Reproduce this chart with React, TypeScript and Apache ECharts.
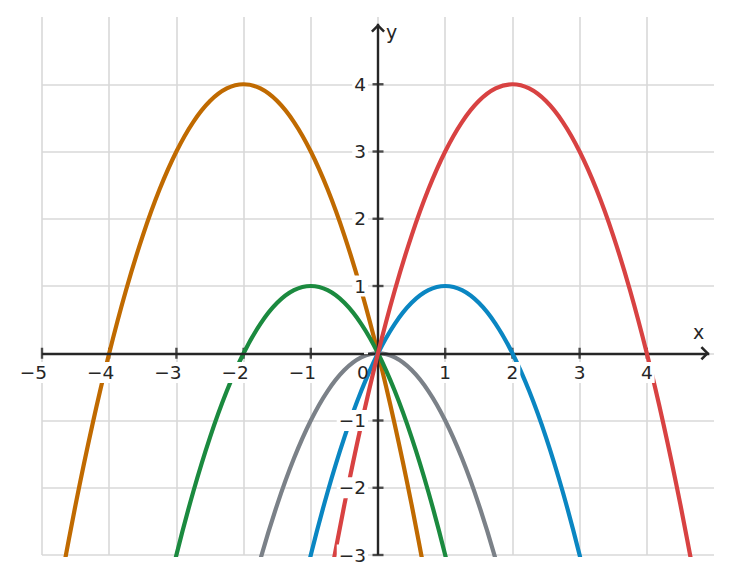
import React, { useEffect, useRef } from "react";
import * as echarts from "echarts";

// Tick positions
const X_TICKS = [-5, -4, -3, -2, -1, 0, 1, 2, 3, 4];
const Y_TICKS = [-3, -2, -1, 1, 2, 3, 4];

// Curves: [x, y]
const GRAY = [
  [-2, -4], [-1.75, -3.0625], [-1.5, -2.25], [-1.25, -1.5625], [-1, -1], [-0.75, -0.5625],
  [-0.5, -0.25], [-0.25, -0.0625], [0, 0], [0.25, -0.0625], [0.5, -0.25], [0.75, -0.5625],
  [1, -1], [1.25, -1.5625], [1.5, -2.25], [1.75, -3.0625], [2, -4],
];
const BLUE = [
  [-1.25, -4.0625], [-1, -3], [-0.75, -2.0625], [-0.5, -1.25], [-0.25, -0.5625], [0, 0],
  [0.25, 0.4375], [0.5, 0.75], [0.75, 0.9375], [1, 1], [1.25, 0.9375], [1.5, 0.75],
  [1.75, 0.4375], [2, 0], [2.25, -0.5625], [2.5, -1.25], [2.75, -2.0625], [3, -3], [3.25, -4.0625],
];
const GREEN = [
  [-3.25, -4.0625], [-3, -3], [-2.75, -2.0625], [-2.5, -1.25], [-2.25, -0.5625], [-2, 0],
  [-1.75, 0.4375], [-1.5, 0.75], [-1.25, 0.9375], [-1, 1], [-0.75, 0.9375], [-0.5, 0.75],
  [-0.25, 0.4375], [0, 0], [0.25, -0.5625], [0.5, -1.25], [0.75, -2.0625], [1, -3], [1.25, -4.0625],
];
const RED = [
  [-0.75, -3.5625], [-0.5, -2.25], [-0.25, -1.0625], [0, 0], [0.25, 0.9375], [0.5, 1.75],
  [0.75, 2.4375], [1, 3], [1.25, 3.4375], [1.5, 3.75], [1.75, 3.9375], [2, 4], [2.25, 3.9375],
  [2.5, 3.75], [2.75, 3.4375], [3, 3], [3.25, 2.4375], [3.5, 1.75], [3.75, 0.9375], [4, 0],
  [4.25, -1.0625], [4.5, -2.25], [4.75, -3.5625],
];
const ORANGE = [
  [-4.75, -3.5625], [-4.5, -2.25], [-4.25, -1.0625], [-4, 0], [-3.75, 0.9375], [-3.5, 1.75],
  [-3.25, 2.4375], [-3, 3], [-2.75, 3.4375], [-2.5, 3.75], [-2.25, 3.9375], [-2, 4], [-1.75, 3.9375],
  [-1.5, 3.75], [-1.25, 3.4375], [-1, 3], [-0.75, 2.4375], [-0.5, 1.75], [-0.25, 0.9375], [0, 0],
  [0.25, -1.0625], [0.5, -2.25], [0.75, -3.5625],
];

const FONT = "DejaVu Sans";
const INK = "#262626";
const GRID = "#d9d9d9";
const FS = 18.5;

// Open chevron pointing up, tip at the centre of its box
const CHEVRON =
  "path://M7,-1.8 L7.01,-1.8 L7,-1.79 Z M7,7 L14,14 L12.2,15.8 L7,10.6 L1.8,15.8 L0,14 Z";

const minus = (v: number) => (v < 0 ? "\u2212" + Math.abs(v) : String(v));

export default function App() {
  const ref = useRef<HTMLDivElement>(null);
  useEffect(() => {
    if (!ref.current) return;
    const chart = echarts.init(ref.current, null, { renderer: "svg" });
    const curve = (name: string, data: number[][], color: string, z: number) => ({
      name,
      type: "line",
      data,
      smooth: 0.333,
      showSymbol: false,
      symbol: "none",
      clip: true,
      z,
      lineStyle: { color, width: 4.2 },
      silent: true,
    });
    const tok = { fontFamily: FONT, fontSize: FS, color: INK, backgroundColor: "#fff", padding: [1, 2] };
    chart.setOption({
      animation: false,
      grid: { left: 42, right: 18, top: 17, bottom: 29 },
      xAxis: [
        {
          type: "value",
          min: -5,
          max: 5,
          interval: 1,
          position: "top",
          axisLine: { show: false, onZero: false },
          axisTick: { show: false },
          axisLabel: { show: false },
          splitLine: { show: true, showMaxLine: false, lineStyle: { color: GRID, width: 1.6 } },
        },
        {
          type: "value",
          min: -5,
          max: 5,
          interval: 1,
          position: "bottom",
          offset: -202,
          z: 10,
          axisLine: { show: false, onZero: false },
          axisTick: { show: false },
          splitLine: { show: false },
          axisLabel: {
            show: true,
            margin: 9,
            fontFamily: FONT,
            fontSize: FS,
            color: INK,
            formatter: (v: number) =>
              v === 5 ? "" : v === 0 ? "{o|0}{w| }" : v < 0 ? "{t|" + minus(v) + "}{s| }" : "{t|" + v + "}",
            rich: {
              t: tok,
              o: { fontFamily: FONT, fontSize: FS, color: INK, padding: [1, 0] },
              s: { fontFamily: FONT, fontSize: FS, width: 17 },
              w: { fontFamily: FONT, fontSize: FS, width: 30 },
            },
          },
        },
      ],
      yAxis: [
        {
          type: "value",
          min: -3,
          max: 5,
          interval: 1,
          position: "right",
          axisLine: { show: false, onZero: false },
          axisTick: { show: false },
          axisLabel: { show: false },
          splitLine: { show: true, showMaxLine: false, lineStyle: { color: GRID, width: 1.6 } },
        },
        {
          type: "value",
          min: -3,
          max: 5,
          interval: 1,
          position: "left",
          offset: -336,
          z: 10,
          axisLine: { show: false, onZero: false },
          axisTick: { show: false },
          splitLine: { show: false },
          axisLabel: {
            show: true,
            margin: 10,
            fontFamily: FONT,
            fontSize: FS,
            color: INK,
            backgroundColor: "#fff",
            padding: [1, 2],
            formatter: (v: number) => (v === 5 || v === 0 ? "" : minus(v)),
          },
        },
      ],
      graphic: [
        { type: "text", left: 693, top: 322, style: { text: "x", fontFamily: FONT, fontSize: 19, fill: INK } },
        { type: "text", left: 386, top: 22, style: { text: "y", fontFamily: FONT, fontSize: 19, fill: INK } },
      ],
      series: [
        {
          type: "scatter",
          xAxisIndex: 0,
          yAxisIndex: 0,
          data: X_TICKS.map((v) => [v, 0]),
          symbol: "rect",
          symbolSize: [2.4, 11],
          itemStyle: { color: INK },
          silent: true,
          z: 1,
          markLine: {
            silent: true,
            symbol: ["none", CHEVRON],
            symbolSize: [14, 17.6],
            label: { show: false },
            emphasis: { disabled: true },
            lineStyle: { color: INK, width: 2.4, type: "solid" },
            data: [
              [{ coord: [-5, 0] }, { coord: [4.93, 0] }],
              [{ coord: [0, -3] }, { coord: [0, 4.9] }],
            ],
          },
        },
        {
          type: "scatter",
          xAxisIndex: 0,
          yAxisIndex: 0,
          data: Y_TICKS.map((v) => [0, v]),
          symbol: "rect",
          symbolSize: [11, 2.4],
          itemStyle: { color: INK },
          silent: true,
          z: 1,
        },
        curve("gray", GRAY, "#7b8188", 2),
        curve("orange", ORANGE, "#c06a00", 3),
        curve("green", GREEN, "#1b8a3f", 4),
        curve("blue", BLUE, "#0a86c2", 5),
        curve("red", RED, "#d84242", 6),
      ],
    });
    return () => chart.dispose();
  }, []);
  return (
    <div
      ref={ref}
      style={{ position: "absolute", left: 0, top: 0, width: 732, height: 584, background: "#fff" }}
    />
  );
}
